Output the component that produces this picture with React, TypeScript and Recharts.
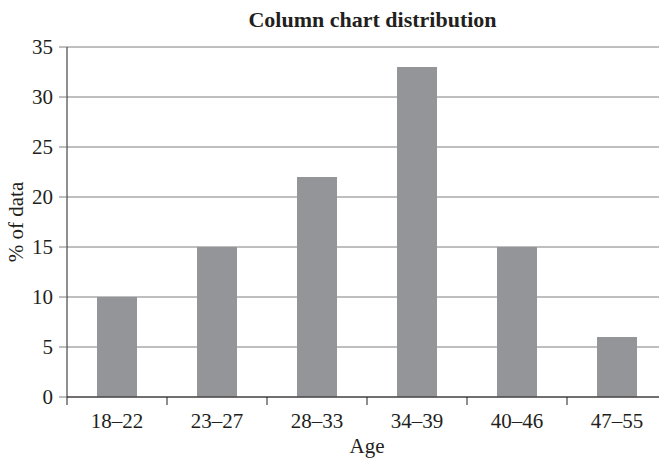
import React from "react";
import { BarChart, Bar, XAxis, YAxis, CartesianGrid } from "recharts";

const categories = ["18–22", "23–27", "28–33", "34–39", "40–46", "47–55"];
const percents = [10, 15, 22, 33, 15, 6];
const yTicks = [0, 5, 10, 15, 20, 25, 30, 35];

const data = categories.map((c, i) => ({ age: c, value: percents[i] }));

const FONT = "'Liberation Serif', 'DejaVu Serif', serif";
const INK = "#231f20";

const XTick = (props: any) => {
  const { x, y, payload } = props;
  const half = payload && typeof payload.offset === "number" ? payload.offset : 50;
  return (
    <g>
      <line x1={x - half} x2={x - half} y1={y - 16} y2={y - 8} stroke={INK} strokeWidth={1} />
      <text x={x} y={y} dy="0.71em" textAnchor="middle" fontFamily={FONT} fontSize={21} fill={INK}>
        {payload.value}
      </text>
    </g>
  );
};

export default function App() {
  return (
    <div style={{ position: "absolute", left: 0, top: 0, width: 659, height: 458, overflow: "hidden", background: "#fff" }}>
      <div
        style={{
          position: "absolute",
          left: 0,
          width: 745,
          top: 9,
          lineHeight: 1,
          textAlign: "center",
          fontFamily: FONT,
          fontWeight: "bold",
          fontSize: 22,
          color: INK,
          whiteSpace: "nowrap",
        }}
      >
        Column chart distribution
      </div>
      <div style={{ position: "absolute", left: 0, top: 0 }}>
        <BarChart
          width={700}
          height={458}
          data={data}
          margin={{ top: 47, right: 33, bottom: 0, left: 0 }}
          barCategoryGap="30%"
        >
          <CartesianGrid vertical={false} stroke="#7f7f7f" strokeWidth={1} />
          <XAxis
            dataKey="age"
            height={61}
            axisLine={{ stroke: INK, strokeWidth: 1 }}
            tickLine={false}
            tickSize={8}
            tickMargin={8}
            interval={0}
            tick={<XTick />}
            label={{ value: "Age", position: "insideBottom", offset: 5, fill: INK, fontFamily: FONT, fontSize: 21 }}
          />
          <YAxis
            width={67}
            domain={[0, 35]}
            ticks={yTicks}
            interval={0}
            axisLine={{ stroke: INK, strokeWidth: 1 }}
            tickLine={{ stroke: "#7f7f7f" }}
            tickSize={8}
            tickMargin={6}
            tick={{ fill: INK, fontFamily: FONT, fontSize: 21 }}
            label={{
              value: "% of data",
              angle: -90,
              position: "insideLeft",
              offset: 16,
              fill: INK,
              fontFamily: FONT,
              fontSize: 21,
              style: { textAnchor: "middle" },
            }}
          />
          <Bar dataKey="value" fill="#939598" isAnimationActive={false} />
        </BarChart>
      </div>
    </div>
  );
}
